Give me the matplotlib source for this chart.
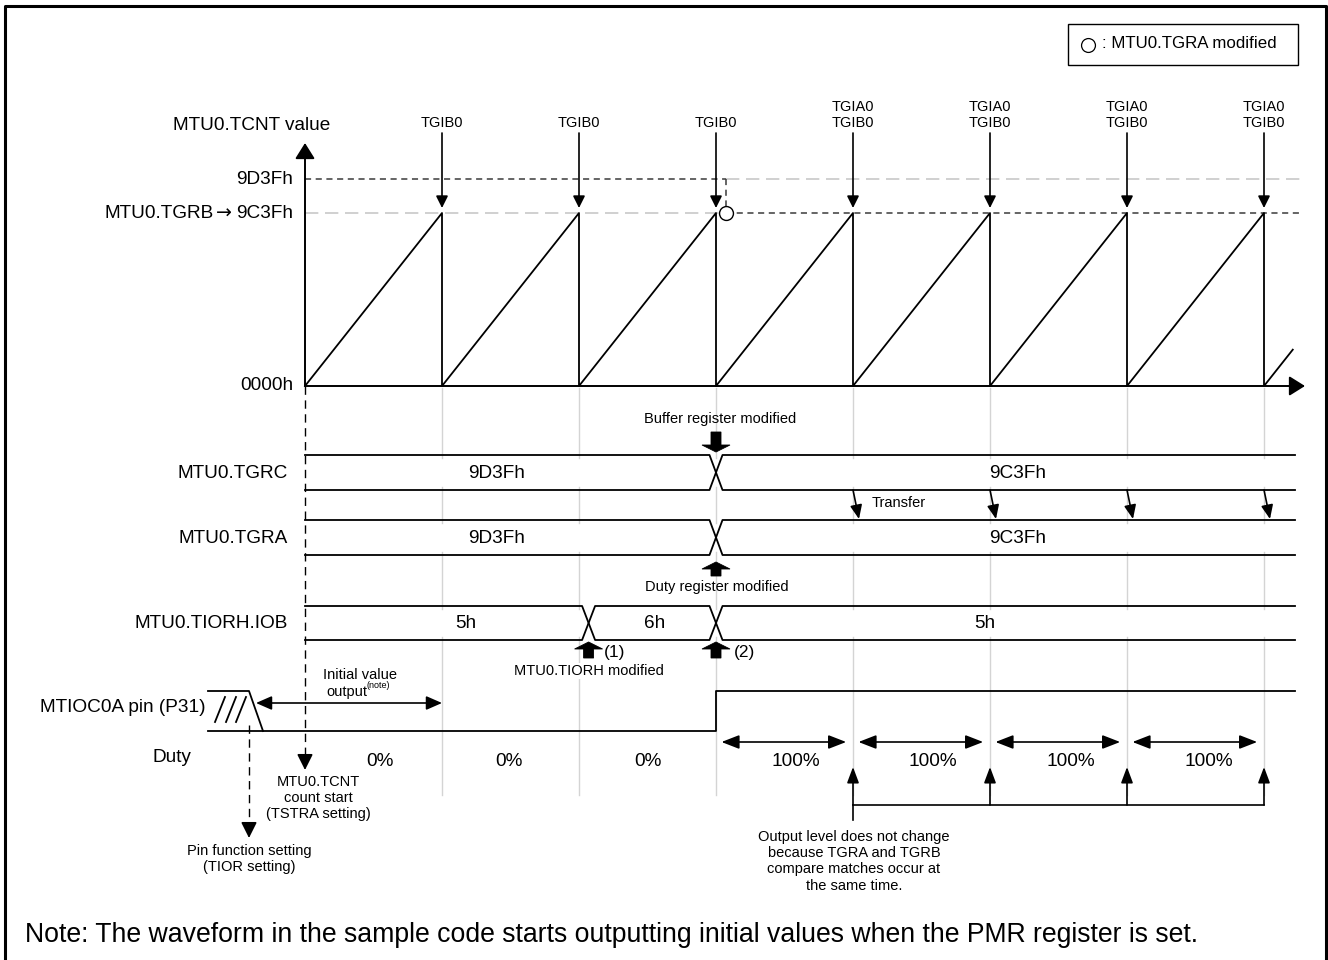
import matplotlib
matplotlib.use('Agg')
import matplotlib.pyplot as plt
from matplotlib.patches import Polygon, Rectangle
import numpy as np

plt.rcParams['font.family'] = ['Liberation Sans', 'DejaVu Sans']

# ── data ─────────────────────────────────────────────────────────────────────
# time is counted in PWM periods from the TCNT count start
PERIOD_EDGES = [1, 2, 3, 4, 5, 6, 7]
TCNT_T = [0, 1, 1, 2, 2, 3, 3, 4, 4, 5, 5, 6, 6, 7, 7, 7.21]
TCNT_V = [0x0000, 0x9C3F, 0x0000, 0x9C3F, 0x0000, 0x9C3F, 0x0000, 0x9C3F,
          0x0000, 0x9C3F, 0x0000, 0x9C3F, 0x0000, 0x9C3F, 0x0000, 0x20D0]
TCNT_TICKS = [0x0000, 0x9C3F, 0x9D3F]
TCNT_TICK_LABELS = ['0000h', '9C3Fh', '9D3Fh']

EVENT_T = [1, 2, 3, 4, 5, 6, 7]
EVENT_LABELS = ['TGIB0', 'TGIB0', 'TGIB0', 'TGIA0\nTGIB0', 'TGIA0\nTGIB0',
                'TGIA0\nTGIB0', 'TGIA0\nTGIB0']
TGRA_MOD_T = 3.07

TGRC_CHANGES = [3.0]
TGRC_VALUES = ['9D3Fh', '9C3Fh']
TGRA_CHANGES = [3.0]
TGRA_VALUES = ['9D3Fh', '9C3Fh']
REG_TEXT_T = [1.4, 5.2]
TRANSFER_T = [4, 5, 6, 7]

IOB_CHANGES = [2.07, 3.0]
IOB_VALUES = ['5h', '6h', '5h']
IOB_TEXT_T = [1.17, 2.55, 4.96]

PIN_RISE_T = 3.0
DUTY_LABELS = ['0%', '0%', '0%', '100%', '100%', '100%', '100%']
DUTY_TEXT_T = [0.55, 1.49, 2.5, 3.58, 4.58, 5.59, 6.6]
DUTY_ARROW_PERIODS = [3, 4, 5, 6]
SAME_TIME_T = [4, 5, 6, 7]

# ── layout (pixel grid of the 1328x960 canvas) ───────────────────────────────
X0, PX = 305, 137          # x pixel of t=0, pixels per period
T_END = (1295 - X0) / PX
TCNT_TICK_Y = [386, 213, 179]   # schematic, not to scale
BIG, SMALL = 13.7, 10.5
LW = 1.3


def tx(p):
    return (p - X0) / PX


def cy(v):
    return np.interp(v, TCNT_TICKS, TCNT_TICK_Y)


def arrow(ax, p0, p1, style='-|>', hl=0.6, hw=0.3, lw=1.2, ms=12, z=3):
    ax.annotate('', xy=p1, xytext=p0,
                arrowprops=dict(arrowstyle=f'{style},head_length={hl},head_width={hw}',
                                lw=lw, color='k', shrinkA=0, shrinkB=0,
                                mutation_scale=ms), zorder=z)


def block_arrow(ax, t, y_tip, y_tail, head_len=7, head_hw=14, shaft_hw=5):
    s = np.sign(y_tail - y_tip)
    yb = y_tip + s * head_len
    pts = [(t, y_tip), (t + head_hw / PX, yb), (t + shaft_hw / PX, yb),
           (t + shaft_hw / PX, y_tail), (t - shaft_hw / PX, y_tail),
           (t - shaft_hw / PX, yb), (t - head_hw / PX, yb)]
    ax.add_patch(Polygon(pts, closed=True, fc='k', ec='k', lw=0.6, zorder=4))


def bus(ax, top, bot, changes, d=6.5 / PX):
    ys = [top, bot]
    for start in (0, 1):
        xs, yy, cur = [0], [ys[start]], start
        for c in changes:
            xs += [c - d, c + d]
            yy += [ys[cur], ys[1 - cur]]
            cur = 1 - cur
        xs.append(T_END)
        yy.append(ys[cur])
        ax.plot(xs, yy, color='k', lw=LW, zorder=3)


fig = plt.figure(figsize=(13.28, 9.6), dpi=100)
ax = fig.add_axes([0, 0, 1, 1])
ax.set_xlim(tx(0), tx(1328))
ax.set_ylim(960, 0)
ax.axis('off')

# frame (open at the bottom)
ax.plot([tx(5), tx(5), tx(1326), tx(1326)], [970, 6, 6, 970], color='k', lw=2.2)

# legend box
ax.add_patch(Rectangle((tx(1068), 24), 230 / PX, 41, fill=False, ec='k', lw=1))
ax.plot(tx(1088), 45, 'o', ms=10, mfc='white', mec='k', mew=0.9)
ax.text(tx(1102), 44, ': MTU0.TGRA modified', ha='left', va='center', fontsize=12.2)

# grey period guides
for t in PERIOD_EDGES:
    for y0, y1 in [(388, 458), (487, 523), (552, 609), (637, 795)]:
        ax.plot([t, t], [y0, y1], color='#d4d4d4', lw=1, zorder=0)

# ── TCNT sawtooth ────────────────────────────────────────────────────────────
arrow(ax, (0, cy(0)), (0, 143), hl=0.8, hw=0.5, lw=1.4)
arrow(ax, (0, cy(0)), (tx(1305), cy(0)), hl=0.8, hw=0.5, lw=1.4)
ax.plot(TCNT_T, cy(np.array(TCNT_V)), color='k', lw=LW, zorder=3)
ax.text(tx(252), 126, 'MTU0.TCNT value', ha='center', va='center', fontsize=BIG)
for v, lab in zip(TCNT_TICKS, TCNT_TICK_LABELS):
    ax.text(tx(293), cy(v), lab, ha='right', va='center', fontsize=BIG)
# "MTU0.TGRB→" pointer in front of the 9C3Fh tick
ax.text(tx(232), cy(0x9C3F), '\u2192', ha='right', va='center', fontsize=BIG,
        family='DejaVu Sans')
ax.text(tx(214), cy(0x9C3F), 'MTU0.TGRB', ha='right', va='center', fontsize=BIG)

dark = dict(color='#3a3a3a', lw=1.1, ls=(0, (4, 3)), zorder=2)
light = dict(color='#c8c8c8', lw=1.2, ls=(0, (8, 4)), zorder=1)
ax.plot([0, TGRA_MOD_T], [cy(0x9D3F)] * 2, **dark)
ax.plot([TGRA_MOD_T, tx(1300)], [cy(0x9D3F)] * 2, **light)
ax.plot([0, TGRA_MOD_T], [cy(0x9C3F)] * 2, **light)
ax.plot([TGRA_MOD_T, tx(1300)], [cy(0x9C3F)] * 2, **dark)
ax.plot([TGRA_MOD_T] * 2, [cy(0x9D3F), cy(0x9C3F)], **dark)
ax.plot(TGRA_MOD_T, cy(0x9C3F), 'o', ms=10, mfc='white', mec='k', mew=1, zorder=5)

for t, lab in zip(EVENT_T, EVENT_LABELS):
    arrow(ax, (t, 133), (t, cy(0x9C3F) - 5))
    ax.text(t, 130, lab, ha='center', va='bottom', fontsize=SMALL, linespacing=1.15)

# count-start dashed marker
ax.plot([0, 0], [cy(0), 758], color='k', lw=1, ls=(0, (6, 4)), zorder=2)
arrow(ax, (0, 756), (0, 770), hl=0.8, hw=0.4)
ax.text(tx(318), 775, 'MTU0.TCNT\ncount start\n(TSTRA setting)', ha='center',
        va='top', fontsize=SMALL, linespacing=1.2)

# ── register rows ────────────────────────────────────────────────────────────
rows = [('MTU0.TGRC', 455, 490, TGRC_CHANGES, TGRC_VALUES, REG_TEXT_T),
        ('MTU0.TGRA', 520, 555, TGRA_CHANGES, TGRA_VALUES, REG_TEXT_T),
        ('MTU0.TIORH.IOB', 606, 640, IOB_CHANGES, IOB_VALUES, IOB_TEXT_T)]
for name, top, bot, ch, vals, tt in rows:
    bus(ax, top, bot, ch)
    ym = (top + bot) / 2 + 1
    ax.text(tx(288), ym, name, ha='right', va='center', fontsize=BIG)
    for t, v in zip(tt, vals):
        ax.text(t, ym, v, ha='center', va='center', fontsize=BIG)

for t in TRANSFER_T:
    arrow(ax, (t, 490), (t + 6 / PX, 519), hl=0.7, hw=0.3)
ax.text(tx(872), 503, 'Transfer', ha='left', va='center', fontsize=SMALL)

ax.text(tx(720), 419, 'Buffer register modified', ha='center', va='center', fontsize=SMALL)
block_arrow(ax, TGRC_CHANGES[0], 452, 432)
block_arrow(ax, TGRA_CHANGES[0], 562, 576)
ax.text(tx(717), 587, 'Duty register modified', ha='center', va='center', fontsize=SMALL)

block_arrow(ax, IOB_CHANGES[0], 642, 658)
block_arrow(ax, IOB_CHANGES[1], 642, 658)
ax.text(tx(604), 652, '(1)', ha='left', va='center', fontsize=12.5)
ax.text(tx(734), 652, '(2)', ha='left', va='center', fontsize=12.5)
ax.text(tx(589), 671, 'MTU0.TIORH modified', ha='center', va='center',
        fontsize=SMALL, bbox=dict(fc='white', ec='none', pad=0.5), zorder=3)

# ── MTIOC0A pin ──────────────────────────────────────────────────────────────
HIGH, LOW = 691, 731
ax.plot([tx(208), PIN_RISE_T, PIN_RISE_T, T_END], [LOW, LOW, HIGH, HIGH],
        color='k', lw=LW, zorder=3)
ax.plot([tx(208), tx(249), tx(263)], [HIGH, HIGH, LOW], color='k', lw=LW, zorder=3)
for xb in (215, 226, 236):
    ax.plot([tx(xb), tx(xb + 10)], [722, 697], color='k', lw=LW)
ax.text(tx(206), 708, 'MTIOC0A pin (P31)', ha='right', va='center', fontsize=BIG)

arrow(ax, (tx(256), 703), (1, 703), style='<|-|>', hl=0.8, hw=0.35)
ax.text(tx(360), 675, 'Initial value', ha='center', va='center', fontsize=SMALL)
ax.text(tx(367), 692, 'output', ha='right', va='center', fontsize=SMALL)
ax.text(tx(367), 686, '(note)', ha='left', va='center', fontsize=6.5)

ax.plot([tx(249)] * 2, [725, 826], color='k', lw=1, ls=(0, (6, 4)))
arrow(ax, (tx(249), 824), (tx(249), 838), hl=0.8, hw=0.4)
ax.text(tx(249), 844, 'Pin function setting\n(TIOR setting)', ha='center',
        va='top', fontsize=SMALL, linespacing=1.2)

# ── duty ─────────────────────────────────────────────────────────────────────
ax.text(tx(172), 757, 'Duty', ha='center', va='center', fontsize=BIG)
for t, lab in zip(DUTY_TEXT_T, DUTY_LABELS):
    ax.text(t, 762, lab, ha='center', va='center', fontsize=BIG)
for k in DUTY_ARROW_PERIODS:
    arrow(ax, (k + 0.04, 742), (k + 0.95, 742), style='<|-|>', hl=0.9, hw=0.35)

for t in SAME_TIME_T:
    arrow(ax, (t, 805), (t, 767), hl=0.8, hw=0.3)
ax.plot([SAME_TIME_T[0], SAME_TIME_T[-1]], [805, 805], color='k', lw=1.2)
ax.plot([SAME_TIME_T[0]] * 2, [805, 820], color='k', lw=1.2)
ax.text(tx(854), 830, 'Output level does not change\nbecause TGRA and TGRB\n'
        'compare matches occur at\nthe same time.', ha='center', va='top',
        fontsize=SMALL, linespacing=1.2)

ax.text(tx(25), 935, 'Note: The waveform in the sample code starts outputting '
        'initial values when the PMR register is set.', ha='left', va='center',
        fontsize=19.2)

fig.savefig('out.png', dpi=100)
